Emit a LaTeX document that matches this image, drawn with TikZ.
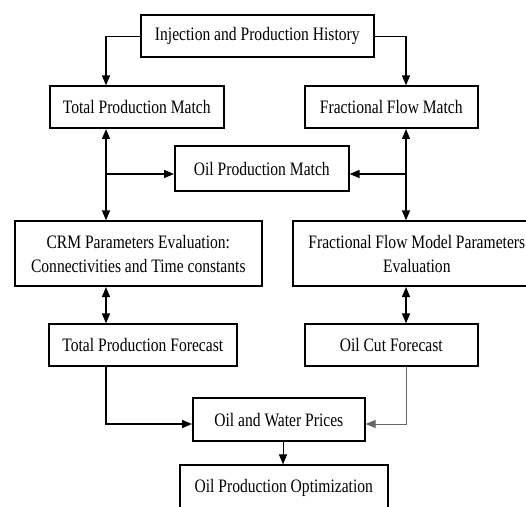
\documentclass[tikz,border=0pt]{standalone}
\usepackage{fontspec}
\setmainfont{Liberation Serif}[FakeStretch=0.82]
\usetikzlibrary{shapes, arrows.meta, positioning, calc}
\tikzstyle{block} = [draw, line width=1.6pt, anchor=south west, align=center, inner sep=0pt, font=\fontsize{19}{24}\selectfont]
\tikzstyle{link} = [line width=1.3pt, -{Triangle[length=10pt, width=8pt]}]
\tikzstyle{twoway} = [line width=1.3pt, {Triangle[length=10pt, width=8pt]}-{Triangle[length=10pt, width=8pt]}]

\begin{document}
\begin{tikzpicture}[x=1pt, y=1pt]
		\useasboundingbox (0, 0) rectangle (526, 506);
		\clip (0, 0) rectangle (526, 506);

		\coordinate (history)  at (140, 448);
		\coordinate (totmatch) at (49,  377);
		\coordinate (ffmatch)  at (304, 377);
		\coordinate (oilmatch) at (174, 314);
		\coordinate (crmeval)  at (14,  219);
		\coordinate (ffeval)   at (292, 219);
		\coordinate (totfore)  at (48,  139);
		\coordinate (cutfore)  at (304, 139);
		\coordinate (prices)   at (192, 64);
		\coordinate (optim)    at (179, -5);
		\coordinate (leftcol)  at (106, 0);
		\coordinate (rightcol) at (406, 0);
		\coordinate (midcol)   at (283, 0);
		\coordinate (branch)   at (0,   332);
		\coordinate (merge)    at (0,   82);

		\node[block, minimum width=233pt, minimum height=42pt] (HIS) at (history) {Injection and Production History};
		\node[block, minimum width=174pt, minimum height=42pt] (TPM) at (totmatch) {Total Production Match};
		\node[block, minimum width=173pt, minimum height=42pt] (FFM) at (ffmatch) {Fractional Flow Match};
		\node[block, minimum width=174pt, minimum height=45pt] (OPM) at (oilmatch) {Oil Production Match};
		\node[block, minimum width=247pt, minimum height=65pt] (CRM) at (crmeval) {CRM Parameters Evaluation:\\Connectivities and Time constants};
		\node[block, minimum width=248pt, minimum height=65pt] (FFP) at (ffeval) {Fractional Flow Model Parameters\\Evaluation};
		\node[block, minimum width=188pt, minimum height=42pt] (TPF) at (totfore) {Total Production Forecast};
		\node[block, minimum width=173pt, minimum height=42pt] (OCF) at (cutfore) {Oil Cut Forecast};
		\node[block, minimum width=172pt, minimum height=43pt] (OWP) at (prices) {Oil and Water Prices};
		\node[block, minimum width=208pt, minimum height=45pt] (OPO) at (optim) {Oil Production Optimization};

		\draw[link] (HIS.west) -| ($(TPM.north -| leftcol)$);
		\draw[link] (HIS.east) -| ($(FFM.north -| rightcol)$);
		\draw[twoway] ($(TPM.south -| leftcol)$) -- ($(CRM.north -| leftcol)$);
		\draw[twoway] ($(FFM.south -| rightcol)$) -- ($(FFP.north -| rightcol)$);
		\draw[link] (branch -| leftcol) -- (branch -| OPM.west);
		\draw[link] (branch -| rightcol) -- (branch -| OPM.east);
		\draw[twoway] ($(CRM.south -| leftcol)$) -- ($(TPF.north -| leftcol)$);
		\draw[twoway] ($(FFP.south -| rightcol)$) -- ($(OCF.north -| rightcol)$);
		\draw[link] ($(TPF.south -| leftcol)$) |- (merge -| OWP.west);
		\draw[link, black!60, line width=1pt] ($(OCF.south -| rightcol)$) |- (merge -| OWP.east);
		\draw[link, line width=1pt] ($(OWP.south -| midcol)$) -- ($(OPO.north -| midcol)$);

	\end{tikzpicture}
\end{document}
